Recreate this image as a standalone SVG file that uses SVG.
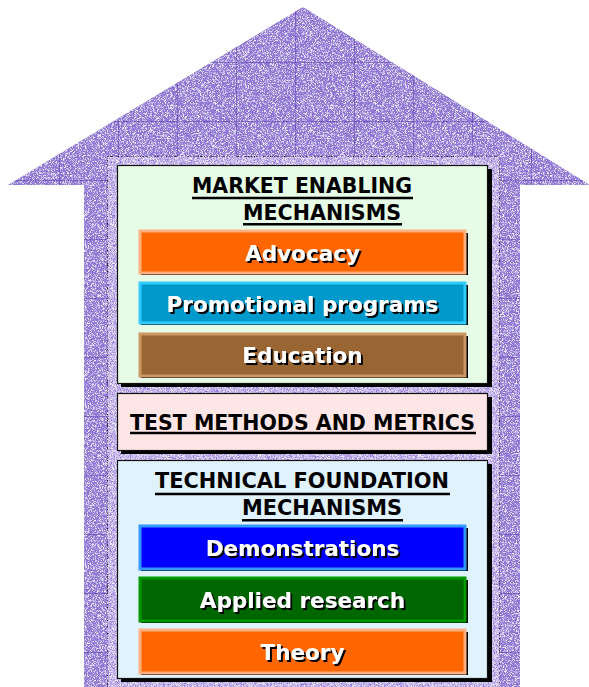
<svg xmlns="http://www.w3.org/2000/svg" width="589" height="687" viewBox="0 0 589 687">
  <defs>
    <style>
      .head { font-family: "DejaVu Sans", Verdana, sans-serif; font-weight: bold; font-size: 21px; fill: #000; }
      .uline { stroke: #000; stroke-width: 2.6; }
      .lbl { font-family: "DejaVu Sans", Verdana, sans-serif; font-weight: bold; font-size: 21.5px; fill: #fff; text-anchor: middle; filter: url(#textShadow); }
      .panel { stroke: #111; stroke-width: 1.2; }
      .shadow { fill: #000; }
    </style>
    <!-- hard black drop shadow behind white bar labels -->
    <filter id="textShadow" x="-5%" y="-20%" width="115%" height="150%">
      <feDropShadow dx="2" dy="2" stdDeviation="0" flood-color="#000" flood-opacity="1"/>
    </filter>
    <!-- pixel grain for the textured house fill -->
    <filter id="grain" x="0" y="0" width="100%" height="100%">
      <feTurbulence type="fractalNoise" baseFrequency="1.6" numOctaves="2" seed="7" result="n"/>
      <feColorMatrix in="n" type="matrix" values="0 0 0 0 1  0 0 0 0 1  0 0 0 0 1  0 0 0 3 -1.4" result="light"/>
      <feComposite in="light" in2="SourceGraphic" operator="in" result="lightIn"/>
      <feTurbulence type="fractalNoise" baseFrequency="1.7" numOctaves="1" seed="21" result="n2"/>
      <feColorMatrix in="n2" type="matrix" values="0 0 0 0 0.3  0 0 0 0 0.15  0 0 0 0 0.7  0 0 0 3.4 -1.3" result="dark"/>
      <feComposite in="dark" in2="SourceGraphic" operator="in" result="darkIn"/>
      <feMerge>
        <feMergeNode in="SourceGraphic"/>
        <feMergeNode in="darkIn"/>
        <feMergeNode in="lightIn"/>
      </feMerge>
    </filter>
    <pattern id="tiles" x="0" y="3" width="59" height="59" patternUnits="userSpaceOnUse">
      <path d="M0 0.5 H59 M0.5 0 V59" stroke="#4a2aa8" stroke-width="1" stroke-opacity="0.45" fill="none"/>
    </pattern>
    <clipPath id="houseClip">
      <polygon points="303,7 590,185 520,185 520,687 84,687 84,185 8,185"/>
    </clipPath>
  </defs>

  <!-- house outline: roof and walls -->
  <g id="house">
    <polygon points="303,7 590,185 520,185 520,687 84,687 84,185 8,185" fill="#8a7bd2" filter="url(#grain)"/>
    <rect x="0" y="0" width="589" height="687" fill="url(#tiles)" clip-path="url(#houseClip)"/>
  </g>

  <!-- inner frame holding the three panels -->
  <g id="frame">
    <rect x="107.5" y="156.5" width="392" height="540" fill="#c8bfec" filter="url(#grain)" stroke="#222" stroke-width="1"/>
  </g>

  <!-- top panel -->
  <g id="market-enabling">
    <rect class="shadow" x="121" y="169" width="371" height="218"/>
    <rect class="panel" x="117.5" y="165.5" width="370" height="218" fill="#e6fce6"/>
    <text class="head" x="192" y="193" textLength="220" lengthAdjust="spacingAndGlyphs">MARKET ENABLING</text>
    <line class="uline" x1="192" y1="198" x2="413" y2="198"/>
    <text class="head" x="243" y="220" textLength="158" lengthAdjust="spacingAndGlyphs">MECHANISMS</text>
    <line class="uline" x1="243" y1="224.3" x2="402" y2="224.3"/>
  </g>

  <g id="advocacy">
    <rect class="shadow" x="141" y="233" width="327" height="42"/>
    <rect x="140" y="231" width="325" height="42" fill="#ff6600" stroke="#ffb080" stroke-width="3"/>
    <text class="lbl" x="302.5" y="260.5">Advocacy</text>
  </g>

  <g id="promotional-programs">
    <rect class="shadow" x="141" y="285" width="327" height="40"/>
    <rect x="140" y="283" width="325" height="40" fill="#0099cc" stroke="#33ccff" stroke-width="3"/>
    <text class="lbl" x="302.5" y="311.5">Promotional programs</text>
  </g>

  <g id="education">
    <rect class="shadow" x="141" y="336" width="327" height="42"/>
    <rect x="140" y="334" width="325" height="42" fill="#996633" stroke="#cc9966" stroke-width="3"/>
    <text class="lbl" x="302.5" y="362.5">Education</text>
  </g>

  <!-- middle panel -->
  <g id="test-methods">
    <rect class="shadow" x="121" y="397" width="371" height="57"/>
    <rect class="panel" x="117.5" y="393.5" width="370" height="57" fill="#ffe6e6"/>
    <text class="head" x="130" y="430" textLength="345" lengthAdjust="spacingAndGlyphs">TEST METHODS AND METRICS</text>
    <line class="uline" x1="130" y1="433" x2="476" y2="433"/>
  </g>

  <!-- bottom panel -->
  <g id="technical-foundation">
    <rect class="shadow" x="121" y="464" width="371" height="218"/>
    <rect class="panel" x="117.5" y="460.5" width="370" height="218" fill="#e0f2fc"/>
    <text class="head" x="155" y="488" textLength="294" lengthAdjust="spacingAndGlyphs">TECHNICAL FOUNDATION</text>
    <line class="uline" x1="155" y1="494" x2="450" y2="494"/>
    <text class="head" x="242" y="515" textLength="160" lengthAdjust="spacingAndGlyphs">MECHANISMS</text>
    <line class="uline" x1="242" y1="520.3" x2="403" y2="520.3"/>
  </g>

  <g id="demonstrations">
    <rect class="shadow" x="141" y="528" width="327" height="43"/>
    <rect x="140" y="526" width="325" height="43" fill="#0000ff" stroke="#3399ff" stroke-width="3"/>
    <text class="lbl" x="302.5" y="555.5">Demonstrations</text>
  </g>

  <g id="applied-research">
    <rect class="shadow" x="141" y="580" width="327" height="43"/>
    <rect x="140" y="578" width="325" height="43" fill="#006600" stroke="#009900" stroke-width="3"/>
    <text class="lbl" x="302.5" y="607.5">Applied research</text>
  </g>

  <g id="theory">
    <rect class="shadow" x="141" y="632" width="327" height="43"/>
    <rect x="140" y="630" width="325" height="43" fill="#ff6600" stroke="#ffb080" stroke-width="3"/>
    <text class="lbl" x="302.5" y="659.5">Theory</text>
  </g>

  <g id="connectors"/>
</svg>
